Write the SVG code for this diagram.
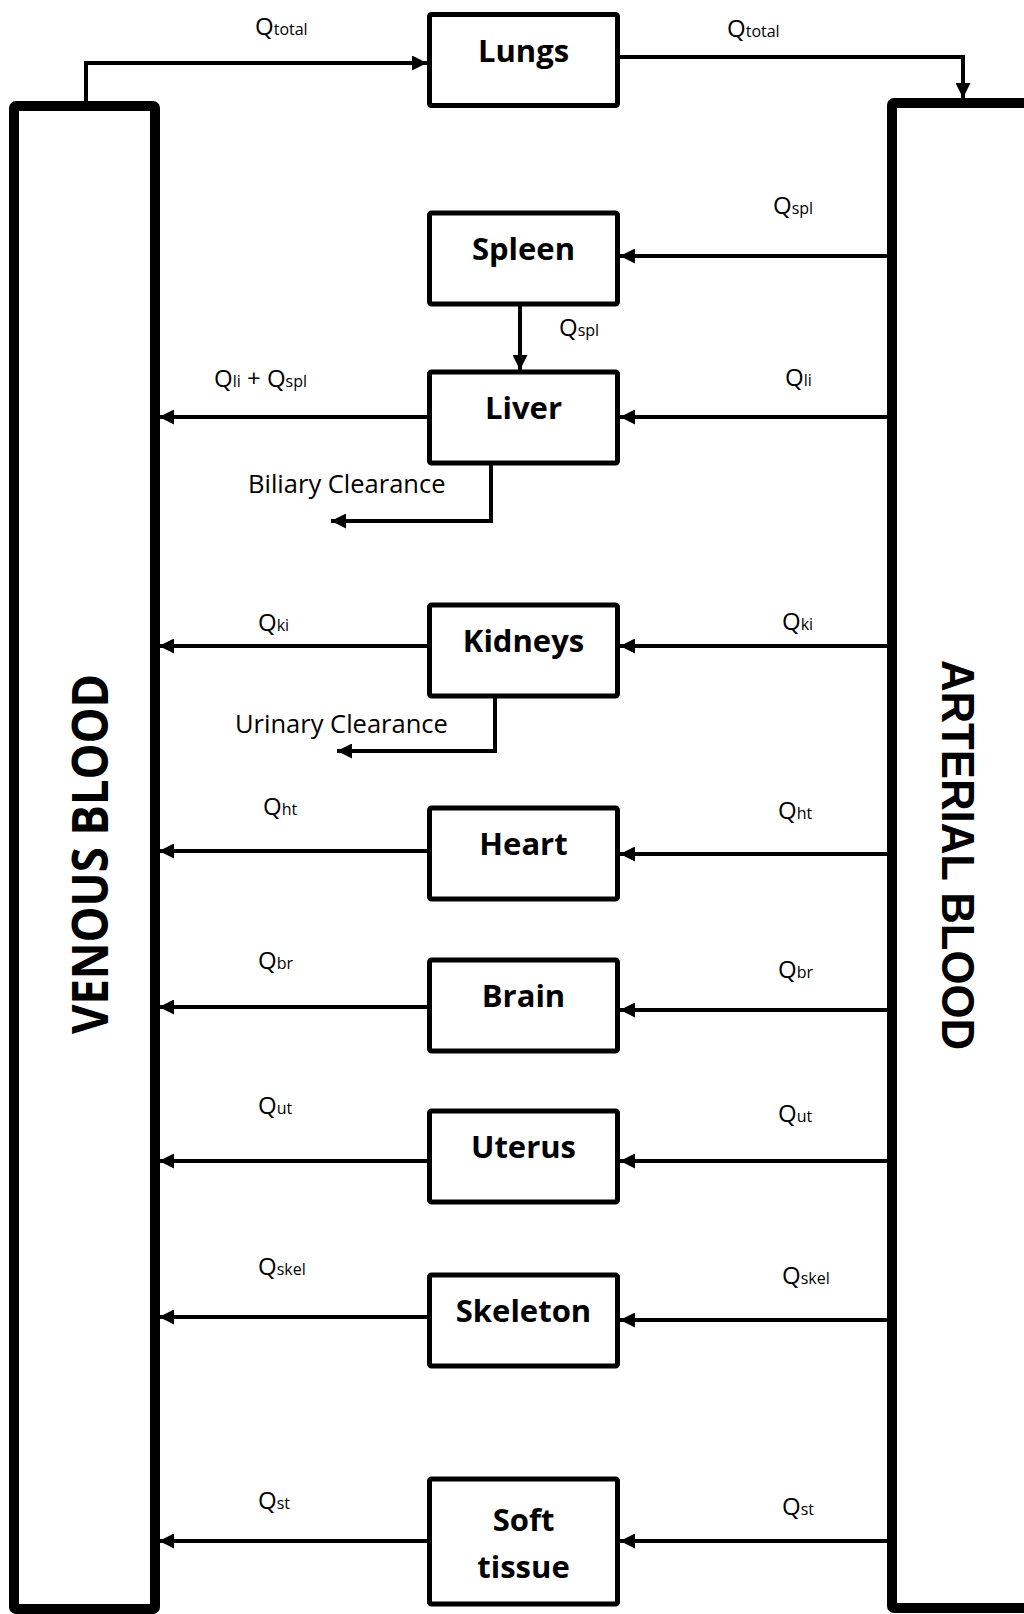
<svg xmlns="http://www.w3.org/2000/svg" width="1024" height="1614" viewBox="0 0 1024 1614">
<defs>
<marker id="ah" markerUnits="userSpaceOnUse" markerWidth="15" markerHeight="15" viewBox="0 0 15 15" refX="15" refY="7.5" orient="auto">
<path d="M0,0 L15,7.5 L0,15 z" fill="#000"/>
</marker>
<style>
.box{fill:#fff;stroke:#000;stroke-width:5;}
.bar{fill:#fff;stroke:#000;stroke-width:10;}
.lbl{font-family:"Open Sans","Noto Sans",sans-serif;font-weight:bold;font-size:31px;text-anchor:middle;fill:#000;}
.q{font-family:"Open Sans","Noto Sans",sans-serif;font-size:24px;fill:#000;}
.s{font-size:16px;}
.c{font-family:"Open Sans","Noto Sans",sans-serif;font-size:25.5px;fill:#000;}
.ln{fill:none;stroke:#000;stroke-width:4;}
.big{font-family:"Open Sans","Noto Sans",sans-serif;font-weight:bold;font-size:50px;fill:#000;}
.big2{font-family:"Liberation Sans",Arial,sans-serif;font-weight:bold;font-size:46px;fill:#000;}
</style>
</defs>
<rect width="1024" height="1614" fill="#fff"/>

<g id="venous">
<rect class="bar" x="14" y="106" width="141" height="1503" rx="2"/>
<text class="big" transform="translate(108,854) rotate(-90)" text-anchor="middle" textLength="360" lengthAdjust="spacingAndGlyphs">VENOUS BLOOD</text>
</g>
<g id="arterial">
<rect class="bar" x="892" y="103" width="160" height="1505" rx="2"/>
<text class="big2" transform="translate(942,855) rotate(90)" text-anchor="middle" textLength="390" lengthAdjust="spacingAndGlyphs">ARTERIAL BLOOD</text>
</g>

<g id="connectors">
<polyline class="ln" points="86,103 86,63 427,63" marker-end="url(#ah)"/>
<polyline class="ln" points="620,57 963,57 963,98" marker-end="url(#ah)"/>
<line class="ln" x1="887" y1="256" x2="620" y2="256" marker-end="url(#ah)"/>
<line class="ln" x1="520" y1="305" x2="520" y2="370" marker-end="url(#ah)"/>
<line class="ln" x1="427" y1="417" x2="159" y2="417" marker-end="url(#ah)"/>
<line class="ln" x1="887" y1="417" x2="620" y2="417" marker-end="url(#ah)"/>
<polyline class="ln" points="491,464 491,521 331,521" marker-end="url(#ah)"/>
<line class="ln" x1="427" y1="646" x2="159" y2="646" marker-end="url(#ah)"/>
<line class="ln" x1="887" y1="646" x2="620" y2="646" marker-end="url(#ah)"/>
<polyline class="ln" points="495,697 495,751 337,751" marker-end="url(#ah)"/>
<line class="ln" x1="427" y1="851" x2="159" y2="851" marker-end="url(#ah)"/>
<line class="ln" x1="887" y1="854" x2="620" y2="854" marker-end="url(#ah)"/>
<line class="ln" x1="427" y1="1007" x2="159" y2="1007" marker-end="url(#ah)"/>
<line class="ln" x1="887" y1="1010" x2="620" y2="1010" marker-end="url(#ah)"/>
<line class="ln" x1="427" y1="1161" x2="159" y2="1161" marker-end="url(#ah)"/>
<line class="ln" x1="887" y1="1161" x2="620" y2="1161" marker-end="url(#ah)"/>
<line class="ln" x1="427" y1="1317" x2="159" y2="1317" marker-end="url(#ah)"/>
<line class="ln" x1="887" y1="1320" x2="620" y2="1320" marker-end="url(#ah)"/>
<line class="ln" x1="427" y1="1541" x2="159" y2="1541" marker-end="url(#ah)"/>
<line class="ln" x1="887" y1="1541" x2="620" y2="1541" marker-end="url(#ah)"/>
</g>

<g id="flow-labels">
<text class="q" x="255" y="35">Q<tspan class="s">total</tspan></text>
<text class="q" x="727" y="37">Q<tspan class="s">total</tspan></text>
<text class="q" x="773" y="214">Q<tspan class="s">spl</tspan></text>
<text class="q" x="559" y="336">Q<tspan class="s">spl</tspan></text>
<text class="q" x="214" y="387">Q<tspan class="s">li</tspan> + Q<tspan class="s">spl</tspan></text>
<text class="q" x="785" y="386">Q<tspan class="s">li</tspan></text>
<text class="c" x="248" y="493">Biliary Clearance</text>
<text class="q" x="258" y="631">Q<tspan class="s">ki</tspan></text>
<text class="q" x="782" y="630">Q<tspan class="s">ki</tspan></text>
<text class="c" x="235" y="733">Urinary Clearance</text>
<text class="q" x="263" y="815">Q<tspan class="s">ht</tspan></text>
<text class="q" x="778" y="819">Q<tspan class="s">ht</tspan></text>
<text class="q" x="258" y="969">Q<tspan class="s">br</tspan></text>
<text class="q" x="778" y="978">Q<tspan class="s">br</tspan></text>
<text class="q" x="258" y="1114">Q<tspan class="s">ut</tspan></text>
<text class="q" x="778" y="1122">Q<tspan class="s">ut</tspan></text>
<text class="q" x="258" y="1275">Q<tspan class="s">skel</tspan></text>
<text class="q" x="782" y="1284">Q<tspan class="s">skel</tspan></text>
<text class="q" x="258" y="1509">Q<tspan class="s">st</tspan></text>
<text class="q" x="782" y="1515">Q<tspan class="s">st</tspan></text>
</g>

<g id="lungs"><rect class="box" x="429.5" y="14.5" width="188" height="91" rx="2"/><text class="lbl" x="523.5" y="62">Lungs</text></g>
<g id="spleen"><rect class="box" x="429.5" y="213" width="188" height="91" rx="2"/><text class="lbl" x="523.5" y="260">Spleen</text></g>
<g id="liver"><rect class="box" x="429.5" y="372" width="188" height="91" rx="2"/><text class="lbl" x="523.5" y="419">Liver</text></g>
<g id="kidneys"><rect class="box" x="429.5" y="605" width="188" height="91" rx="2"/><text class="lbl" x="523.5" y="652">Kidneys</text></g>
<g id="heart"><rect class="box" x="429.5" y="808" width="188" height="91" rx="2"/><text class="lbl" x="523.5" y="855">Heart</text></g>
<g id="brain"><rect class="box" x="429.5" y="960" width="188" height="91" rx="2"/><text class="lbl" x="523.5" y="1007">Brain</text></g>
<g id="uterus"><rect class="box" x="429.5" y="1111" width="188" height="91" rx="2"/><text class="lbl" x="523.5" y="1158">Uterus</text></g>
<g id="skeleton"><rect class="box" x="429.5" y="1275" width="188" height="91" rx="2"/><text class="lbl" x="523.5" y="1322">Skeleton</text></g>
<g id="soft-tissue"><rect class="box" x="429.5" y="1479" width="188" height="125" rx="2"/><text class="lbl" x="523.5" y="1531">Soft</text><text class="lbl" x="523.5" y="1578">tissue</text></g>
</svg>
